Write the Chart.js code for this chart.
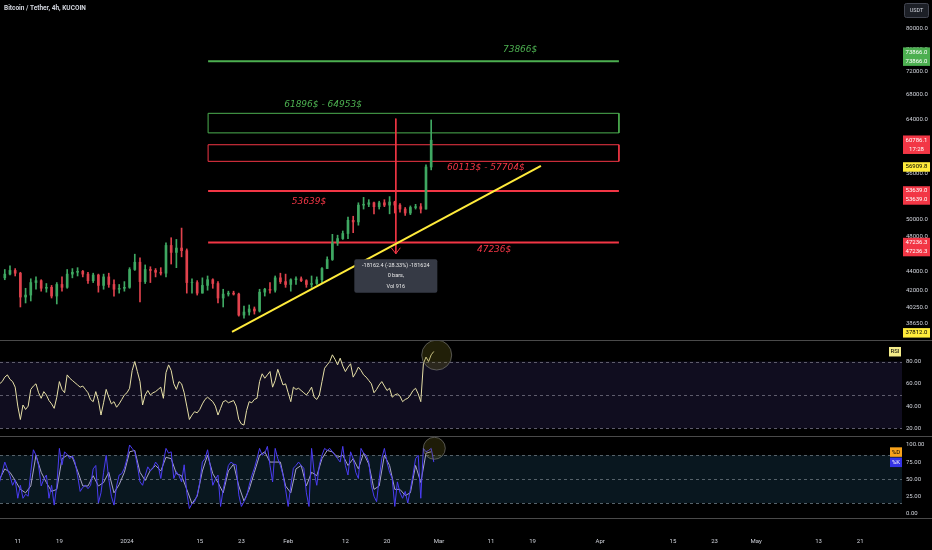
<!DOCTYPE html>
<html>
<head>
<meta charset="utf-8">
<title>Bitcoin / Tether, 4h, KUCOIN</title>
<script src="https://cdn.jsdelivr.net/npm/chart.js@4.4.1/dist/chart.umd.min.js"></script>
<style>
  html, body { margin: 0; padding: 0; background: #000; }
  body { position: relative; width: 932px; height: 550px; overflow: hidden; }
  canvas { position: absolute; left: 0; }
  #title { position: absolute; left: 4px; top: 5px; color: #d1d4dc; font: bold 6.5px Roboto, sans-serif; line-height: 7px; white-space: nowrap; }
</style>
</head>
<body>
<canvas id="priceChart" width="932" height="340" style="top:0"></canvas>
<canvas id="rsiChart" width="932" height="96" style="top:340px"></canvas>
<canvas id="stochChart" width="932" height="114" style="top:436px"></canvas>
<div id="title">Bitcoin / Tether, 4h, KUCOIN</div>
<script>
// days counted from 1 Jan 2024 (day 0); one candle per day
var firstDay = -24;
var firstOpen = 43300;
var closes = [43700,44100,43800,41300,41500,42800,43000,42200,42300,41400,
              42600,42300,43700,43900,44000,43700,43000,43600,42500,43400,
              42600,42100,42200,42300,44200,45000,42900,44200,44100,43900,
              43800,46900,46100,46600,46300,42800,42800,41700,42500,43100,
              42700,41200,41600,41700,41600,39500,39800,40100,39900,41800,
              42100,42000,43300,42900,42600,43100,43200,43000,42600,42700,
              43100,44300,45300,47200,47700,48300,49900,49700,51800,51900,
              52100,51600,52100,51800,52200,51800,51300,50800,51500,51600,
              51300,56900,60786];
var highs  = [44200,44600,44300,43900,42200,43200,43400,43100,42700,42500,
              42800,43400,44200,44300,44400,44100,43900,43800,43700,43700,
              43800,43100,42600,42900,44400,45900,45500,44700,44500,44300,
              44400,47200,47800,47600,48950,46500,43200,43000,43300,43500,
              43200,42900,42100,41900,41900,41700,40400,40500,40300,42100,
              42200,42800,43500,43800,43700,43200,43400,43400,43100,43500,
              43400,44400,45600,48200,48100,48600,50300,50400,52100,52800,
              52500,52200,52300,52500,52900,52300,52000,51500,51700,51900,
              52000,57200,63900];
var lows   = [43100,43600,43500,40300,40700,40900,42100,41900,41800,41200,
              40600,41900,42200,43300,43500,43400,42700,42800,41800,42100,
              42300,41400,41700,41900,42200,44100,40800,42700,42800,43400,
              43600,43400,44800,44400,45600,41700,41700,41500,41700,42000,
              42200,40700,40300,41400,41500,39400,39200,39500,39600,39800,
              41400,41700,41800,42700,42300,41900,42600,42900,42300,42300,
              42600,42800,44300,45200,46900,47600,47700,48400,49300,51300,
              51600,50700,51300,51600,50700,50800,50900,50500,50600,51300,
              50800,51300,56500];

// oscillators, every half day
var oscStart = -24.5, oscStep = 0.5;
var rsi = [60,62,66,68,64,62,57,40,28,41,
           37,40,55,58,60,52,47,53,50,45,
           42,38,48,62,55,52,68,65,63,61,
           59,57,58,55,52,46,44,53,45,32,
           43,55,48,42,44,39,42,46,50,52,
           56,72,80,71,62,41,50,54,50,52,
           53,55,57,47,70,77,72,60,55,62,
           60,52,40,28,32,35,34,37,42,46,
           48,46,44,40,32,38,44,45,43,44,
           45,40,28,24,23,36,44,43,46,47,
           62,69,65,68,71,57,63,73,66,59,
           60,52,44,57,55,56,54,52,50,53,
           57,48,46,50,62,74,77,80,86,82,
           77,83,76,71,75,78,66,70,75,72,
           68,66,63,60,52,55,59,62,58,54,
           56,48,50,51,49,44,46,47,50,54,
           56,51,44,78,84,80,86,89];
var stochK = [46,60,75,65,55,41,49,22,41,22,
              28,25,60,93,85,70,40,50,56,22,
              41,12,40,95,71,90,86,80,84,75,
              55,32,38,41,36,41,65,70,15,30,
              60,85,50,25,12,40,56,58,66,80,
              100,95,90,70,46,41,55,68,62,66,
              75,70,51,75,95,88,90,51,61,55,
              46,71,30,7,14,17,27,45,75,80,
              93,70,41,50,56,10,35,52,70,75,
              72,71,27,10,17,25,41,55,66,80,
              95,85,88,98,70,46,95,80,70,56,
              35,10,40,66,70,75,70,66,30,10,
              95,60,41,71,85,95,92,95,90,85,
              80,75,98,70,56,90,80,60,51,95,
              88,85,75,41,25,17,50,80,95,75,
              60,51,10,46,30,22,32,15,35,56,
              80,85,22,95,90,92,95,75];
// %D, one value per day
var stochDStart = -24.5, stochDStep = 1;
var stochD = [50,65,60,48,35,30,40,85,60,45,
              32,35,80,85,82,62,40,40,55,40,
              45,60,30,42,60,90,92,60,48,63,
              70,62,82,80,58,55,35,14,25,62,
              85,58,45,30,62,72,40,18,35,60,
              85,90,75,75,75,40,30,65,70,40,
              60,55,80,92,90,82,85,70,80,65,
              88,72,35,40,85,70,35,35,26,30,
              70,45,88,90];

var timeTicks  = [-21,-13,0,14,22,31,42,50,60,70,78,91,105,113,121,133,141];
var timeLabels = ['11','19','2024','15','23','Feb','12','20','Mar','11','19','Apr','15','23','May','13','21'];
var priceTicks = [38650,40250,42000,44000,48000,50000,56000,60000,64000,68000,72000,76000,80000];
var rsiTicks = [20,40,60,80];
var stochTicks = [0,25,50,75,100];

// drawn levels
var resistance = 73866;
var supports = [53639, 47236.3];
var greenZone = [61896, 64953];
var redZone = [57704, 60113];
var zoneDays = [15.6, 94.6];
var trendDays = [20.2, 79.6], trendPrices = [37900, 57070];
var measureDay = 51.7, measurePrices = [64110, 45948];
var lastPrice = 60786.1, trendNow = 56909.8, trendLow = 37812.0;

var GREEN = '#4caf50', RED = '#f23645', YELLOW = '#ffeb3b';
var UP = '#3fa862', DOWN = '#e0424d';
var AXIS_TEXT = '#d1d4dc';
var tickFont = {family: 'Roboto', size: 6};
var xMin = -24.42, xMax = 149.04;

Chart.defaults.font.family = 'Roboto';

function hline(v) {
  return [{x: zoneDays[0], y: v}, {x: zoneDays[1], y: v}];
}
function box(lo, hi) {
  return [{x: zoneDays[0], y: hi}, {x: zoneDays[1], y: hi}, {x: zoneDays[1], y: lo},
          {x: zoneDays[0], y: lo}, {x: zoneDays[0], y: hi}];
}
function series(start, step, values) {
  return values.map(function (v, i) { return {x: start + i * step, y: v}; });
}
function tag(ctx, left, top, w, lines, bg, fg) {
  ctx.fillStyle = bg;
  ctx.fillRect(left, top, w, lines.length * 9 + 0.5);
  ctx.fillStyle = fg;
  ctx.font = '6px Roboto';
  ctx.textAlign = 'center';
  ctx.textBaseline = 'middle';
  lines.forEach(function (t, k) { ctx.fillText(t, left + w / 2, top + 4.75 + k * 9); });
}
// right-hand value axis: fixed width, no extra padding above/below the plot
function fitRight(s) { s.width = 30; s.paddingTop = 0; s.paddingBottom = 0; }
function rightAxis(ticks, min, max, fmt) {
  return {
    type: 'linear', position: 'right', min: min, max: max, bounds: 'data',
    afterFit: fitRight,
    afterBuildTicks: function (s) { s.ticks = ticks.map(function (v) { return {value: v}; }); },
    ticks: {autoSkip: false, color: AXIS_TEXT, font: tickFont, padding: 4, callback: fmt},
    grid: {display: false, drawTicks: false}, border: {display: false}
  };
}
var hiddenX = {type: 'linear', min: xMin, max: xMax, offset: false, bounds: 'data', display: false};

// candles
var wicks = [], bodies = [], candleColors = [];
closes.forEach(function (c, i) {
  var o = i ? closes[i - 1] : firstOpen;
  var x = firstDay + i + 0.5;
  wicks.push({x: x, y: [lows[i], highs[i]]});
  bodies.push({x: x, y: [o, c]});
  candleColors.push(c >= o ? UP : DOWN);
});

var levelTexts = [
  {text: '73866$', day: 75.6, price: 75960, color: GREEN},
  {text: '61896$ - 64953$', day: 37.7, price: 66330, color: GREEN},
  {text: '60113$ - 57704$', day: 69.0, price: 56750, color: RED},
  {text: '53639$', day: 35.0, price: 52260, color: RED},
  {text: '47236$', day: 70.6, price: 46390, color: RED}
];
var priceTags = [
  {v: resistance, lines: ['73866.0', '73866.0'], bg: GREEN, fg: '#fff', above: 1},
  {v: lastPrice, lines: ['60786.1', '17:28'], bg: RED, fg: '#fff', above: 0},
  {v: trendNow, lines: ['56909.8'], bg: YELLOW, fg: '#000', above: 0},
  {v: supports[0], lines: ['53639.0', '53639.0'], bg: RED, fg: '#fff', above: 0},
  {v: supports[1], lines: ['47236.3', '47236.3'], bg: RED, fg: '#fff', above: 0},
  {v: trendLow, lines: ['37812.0'], bg: YELLOW, fg: '#000', above: 0}
];

var priceDecor = {
  id: 'priceDecor',
  afterDraw: function (chart) {
    var ctx = chart.ctx, xs = chart.scales.x, ys = chart.scales.y, area = chart.chartArea;
    ctx.save();
    ctx.font = 'italic 9px "DejaVu Sans"';
    ctx.textAlign = 'center';
    ctx.textBaseline = 'middle';
    levelTexts.forEach(function (t) {
      ctx.fillStyle = t.color;
      ctx.fillText(t.text, xs.getPixelForValue(t.day), ys.getPixelForValue(t.price));
    });
    // measure arrow + info box
    var mx = xs.getPixelForValue(measureDay), my = ys.getPixelForValue(measurePrices[1]);
    ctx.strokeStyle = RED;
    ctx.lineWidth = 1;
    ctx.beginPath();
    ctx.moveTo(mx - 4.5, my - 6); ctx.lineTo(mx, my); ctx.lineTo(mx + 4.5, my - 6);
    ctx.stroke();
    ctx.fillStyle = '#363a45';
    ctx.beginPath();
    ctx.roundRect(mx - 41.5, my + 5.5, 83, 33.5, 2);
    ctx.fill();
    ctx.fillStyle = '#e8e8e8';
    ctx.font = '5.5px Roboto';
    ctx.fillText('-18162.4 (-28.33%) -181624', mx, my + 11.5);
    ctx.fillText('0 bars,', mx, my + 22);
    ctx.fillText('Vol 916', mx, my + 32.5);
    // axis tags
    priceTags.forEach(function (t) {
      var py = ys.getPixelForValue(t.v);
      tag(ctx, area.right + 1, py - 4.75 - t.above * 9, 27, t.lines, t.bg, t.fg);
    });
    // currency button
    ctx.fillStyle = '#1c1f26';
    ctx.strokeStyle = '#434651';
    ctx.beginPath();
    ctx.roundRect(904.5, 3.5, 24, 14, 2);
    ctx.fill(); ctx.stroke();
    ctx.fillStyle = AXIS_TEXT;
    ctx.font = '5.5px Roboto';
    ctx.fillText('USDT', 916.5, 10.5);
    ctx.restore();
  }
};

new Chart(document.getElementById('priceChart'), {
  type: 'bar',
  data: {
    datasets: [
      {type: 'line', data: [{x: trendDays[0], y: trendPrices[0]}, {x: trendDays[1], y: trendPrices[1]}],
       borderColor: YELLOW, borderWidth: 2, pointRadius: 0, order: 0},
      {type: 'line', data: [{x: measureDay, y: measurePrices[0]}, {x: measureDay, y: measurePrices[1]}],
       borderColor: RED, borderWidth: 1, pointRadius: 0, order: 1},
      {type: 'bar', data: bodies, backgroundColor: candleColors, barThickness: 2, grouped: false, order: 2},
      {type: 'bar', data: wicks, backgroundColor: candleColors, barThickness: 1, grouped: false, order: 3},
      {type: 'line', data: hline(resistance), borderColor: GREEN, borderWidth: 2, pointRadius: 0, order: 4},
      {type: 'line', data: hline(supports[0]), borderColor: RED, borderWidth: 2, pointRadius: 0, order: 4},
      {type: 'line', data: hline(supports[1]), borderColor: RED, borderWidth: 2, pointRadius: 0, order: 4},
      {type: 'line', data: box(greenZone[0], greenZone[1]), borderColor: GREEN, borderWidth: 1,
       backgroundColor: 'rgba(76,175,80,0.16)', fill: {value: greenZone[0]}, pointRadius: 0, order: 5},
      {type: 'line', data: box(redZone[0], redZone[1]), borderColor: RED, borderWidth: 1,
       backgroundColor: 'rgba(242,54,69,0.16)', fill: {value: redZone[0]}, pointRadius: 0, order: 5}
    ]
  },
  options: {
    responsive: false, animation: false, events: [],
    layout: {padding: 0},
    plugins: {legend: {display: false}, tooltip: {enabled: false}},
    scales: {
      x: hiddenX,
      y: {
        type: 'logarithmic', position: 'right', min: 37150, max: 85880, bounds: 'data',
        afterFit: fitRight,
        afterBuildTicks: function (s) { s.ticks = priceTicks.map(function (v) { return {value: v}; }); },
        ticks: {autoSkip: false, color: AXIS_TEXT, font: tickFont, padding: 4,
                callback: function (v) { return Number(v).toFixed(1); }},
        grid: {display: false, drawTicks: false}, border: {display: false}
      }
    }
  },
  plugins: [priceDecor]
});

// RSI panel
var rsiDecor = {
  id: 'rsiDecor',
  beforeDatasetsDraw: function (chart) {
    var ctx = chart.ctx, ys = chart.scales.y, a = chart.chartArea;
    var top = ys.getPixelForValue(80), mid = ys.getPixelForValue(50), bot = ys.getPixelForValue(20);
    ctx.save();
    ctx.fillStyle = '#100d1f';
    ctx.fillRect(a.left, top, a.right - a.left, bot - top);
    ctx.strokeStyle = '#5e5c6c';
    ctx.lineWidth = 1;
    ctx.setLineDash([3, 3]);
    [top, mid, bot].forEach(function (y) {
      ctx.beginPath(); ctx.moveTo(a.left, Math.round(y) + 0.5); ctx.lineTo(a.right, Math.round(y) + 0.5); ctx.stroke();
    });
    ctx.restore();
  },
  afterDraw: function (chart) {
    var ctx = chart.ctx, xs = chart.scales.x, ys = chart.scales.y, a = chart.chartArea;
    ctx.save();
    ctx.fillStyle = 'rgba(120,110,30,0.28)';
    ctx.strokeStyle = 'rgba(130,130,130,0.6)';
    ctx.lineWidth = 1;
    ctx.beginPath();
    ctx.arc(xs.getPixelForValue(59.56), ys.getPixelForValue(85.8), 15, 0, Math.PI * 2);
    ctx.fill(); ctx.stroke();
    tag(ctx, a.right - 13, ys.getPixelForValue(rsi[rsi.length - 1]) - 4.5, 12, ['RSI'], '#f4ec8a', '#000');
    ctx.fillStyle = '#4a4a4a';
    ctx.fillRect(0, 0, 932, 1);
    ctx.restore();
  }
};

new Chart(document.getElementById('rsiChart'), {
  type: 'line',
  data: {datasets: [{data: series(oscStart, oscStep, rsi), borderColor: '#e6dfa6', borderWidth: 1, pointRadius: 0}]},
  options: {
    responsive: false, animation: false, events: [],
    layout: {padding: {top: 1, bottom: 1}},
    plugins: {legend: {display: false}, tooltip: {enabled: false}},
    scales: {
      x: hiddenX,
      y: rightAxis(rsiTicks, 14.1, 98.4, function (v) { return Number(v).toFixed(2); })
    }
  },
  plugins: [rsiDecor]
});

// Stoch RSI panel
var stochDecor = {
  id: 'stochDecor',
  beforeDatasetsDraw: function (chart) {
    var ctx = chart.ctx, ys = chart.scales.y, a = chart.chartArea;
    var top = ys.getPixelForValue(85), mid = ys.getPixelForValue(50), bot = ys.getPixelForValue(15);
    ctx.save();
    ctx.fillStyle = '#09171f';
    ctx.fillRect(a.left, top, a.right - a.left, bot - top);
    ctx.strokeStyle = '#56626a';
    ctx.lineWidth = 1;
    ctx.setLineDash([3, 3]);
    [top, mid, bot].forEach(function (y) {
      ctx.beginPath(); ctx.moveTo(a.left, Math.round(y) + 0.5); ctx.lineTo(a.right, Math.round(y) + 0.5); ctx.stroke();
    });
    ctx.restore();
  },
  afterDraw: function (chart) {
    var ctx = chart.ctx, xs = chart.scales.x, ys = chart.scales.y, a = chart.chartArea;
    ctx.save();
    ctx.fillStyle = 'rgba(120,110,30,0.25)';
    ctx.strokeStyle = 'rgba(130,130,130,0.6)';
    ctx.lineWidth = 1;
    ctx.beginPath();
    ctx.arc(xs.getPixelForValue(59.1), ys.getPixelForValue(95.2), 11, 0, Math.PI * 2);
    ctx.fill(); ctx.stroke();
    tag(ctx, a.right - 12, ys.getPixelForValue(stochD[stochD.length - 1]) - 4.5, 12, ['%D'], '#f7a21b', '#000');
    tag(ctx, a.right - 12, ys.getPixelForValue(stochK[stochK.length - 1]) - 4.5, 12, ['%K'], '#3433e6', '#fff');
    ctx.fillStyle = '#4a4a4a';
    ctx.fillRect(0, 0, 932, 1);
    ctx.fillRect(0, a.bottom, 932, 1);
    ctx.restore();
  }
};

new Chart(document.getElementById('stochChart'), {
  type: 'line',
  data: {datasets: [
    {data: series(oscStart, oscStep, stochK), borderColor: '#4a3cf2', borderWidth: 1, pointRadius: 0},
    {data: series(stochDStart, stochDStep, stochD), borderColor: '#a7a4c6', borderWidth: 1, pointRadius: 0}
  ]},
  options: {
    responsive: false, animation: false, events: [],
    layout: {padding: {top: 1}},
    plugins: {legend: {display: false}, tooltip: {enabled: false}},
    scales: {
      x: {
        type: 'linear', min: xMin, max: xMax, offset: false, bounds: 'data',
        afterFit: function (s) { s.height = 32; s.paddingLeft = 0; s.paddingRight = 0; },
        afterBuildTicks: function (s) { s.ticks = timeTicks.map(function (v) { return {value: v}; }); },
        ticks: {autoSkip: false, maxRotation: 0, color: AXIS_TEXT, font: tickFont, padding: 20,
                callback: function (v) { return timeLabels[timeTicks.indexOf(v)]; }},
        grid: {display: false, drawTicks: false}, border: {display: false}
      },
      y: rightAxis(stochTicks, -6.9, 111.7, function (v) { return Number(v).toFixed(2); })
    }
  },
  plugins: [stochDecor]
});
</script>
</body>
</html>
